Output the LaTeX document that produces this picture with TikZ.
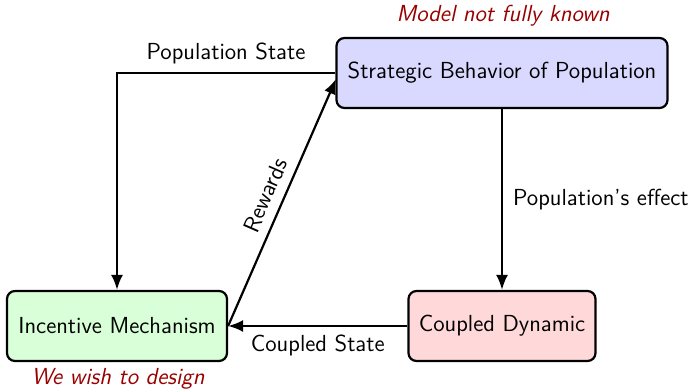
\documentclass[tikz,border=0pt]{standalone}
\usetikzlibrary{arrows.meta}
\begin{document}
\begin{tikzpicture}[x=0.5pt,y=-0.5pt,
  font=\sffamily\fontsize{11.6}{14}\selectfont,
  block/.style={draw,line width=1.1pt,rounded corners=4pt,minimum height=35pt,align=center,inner sep=2pt},
  link/.style={line width=1.1pt,-{Latex[length=7.5pt,width=6pt]}},
  note/.style={text=red!60!black,font=\sffamily\itshape\fontsize{11.6}{14}\selectfont},
  lbl/.style={inner sep=1pt}]
\useasboundingbox (0,0) rectangle (694,391);

% the three blocks of the loop
\node[block,fill=blue!15,minimum width=165.5pt] (strat) at (502,73) {Strategic Behavior of Population};
\node[block,fill=green!15,minimum width=110pt] (incent) at (117,326) {Incentive Mechanism};
\node[block,fill=red!15,minimum width=93.5pt] (coupled) at (502,326) {Coupled Dynamic};

% annotations
\node[note] (unknown) at (503,16) {Model not fully known};
\node[note] (design) at (118,379) {We wish to design};

% connectors
\coordinate (corner) at (117,73);
\coordinate (rewin) at (336,79);
\draw[link] (strat.west) -- (corner) -- (incent.north);
\node[lbl] (popstate) at (226,53) {Population State};
\draw[link] (incent.east) -- node[lbl,sloped,above=3.5pt] (rew) {Rewards} (rewin);
\draw[link] (strat.south) -- node[lbl,right=4pt] (effect) {Population's effect} (coupled.north);
\draw[link] (coupled.west) -- node[lbl,below=3pt] (cstate) {Coupled State} (incent.east);
\end{tikzpicture}
\end{document}
